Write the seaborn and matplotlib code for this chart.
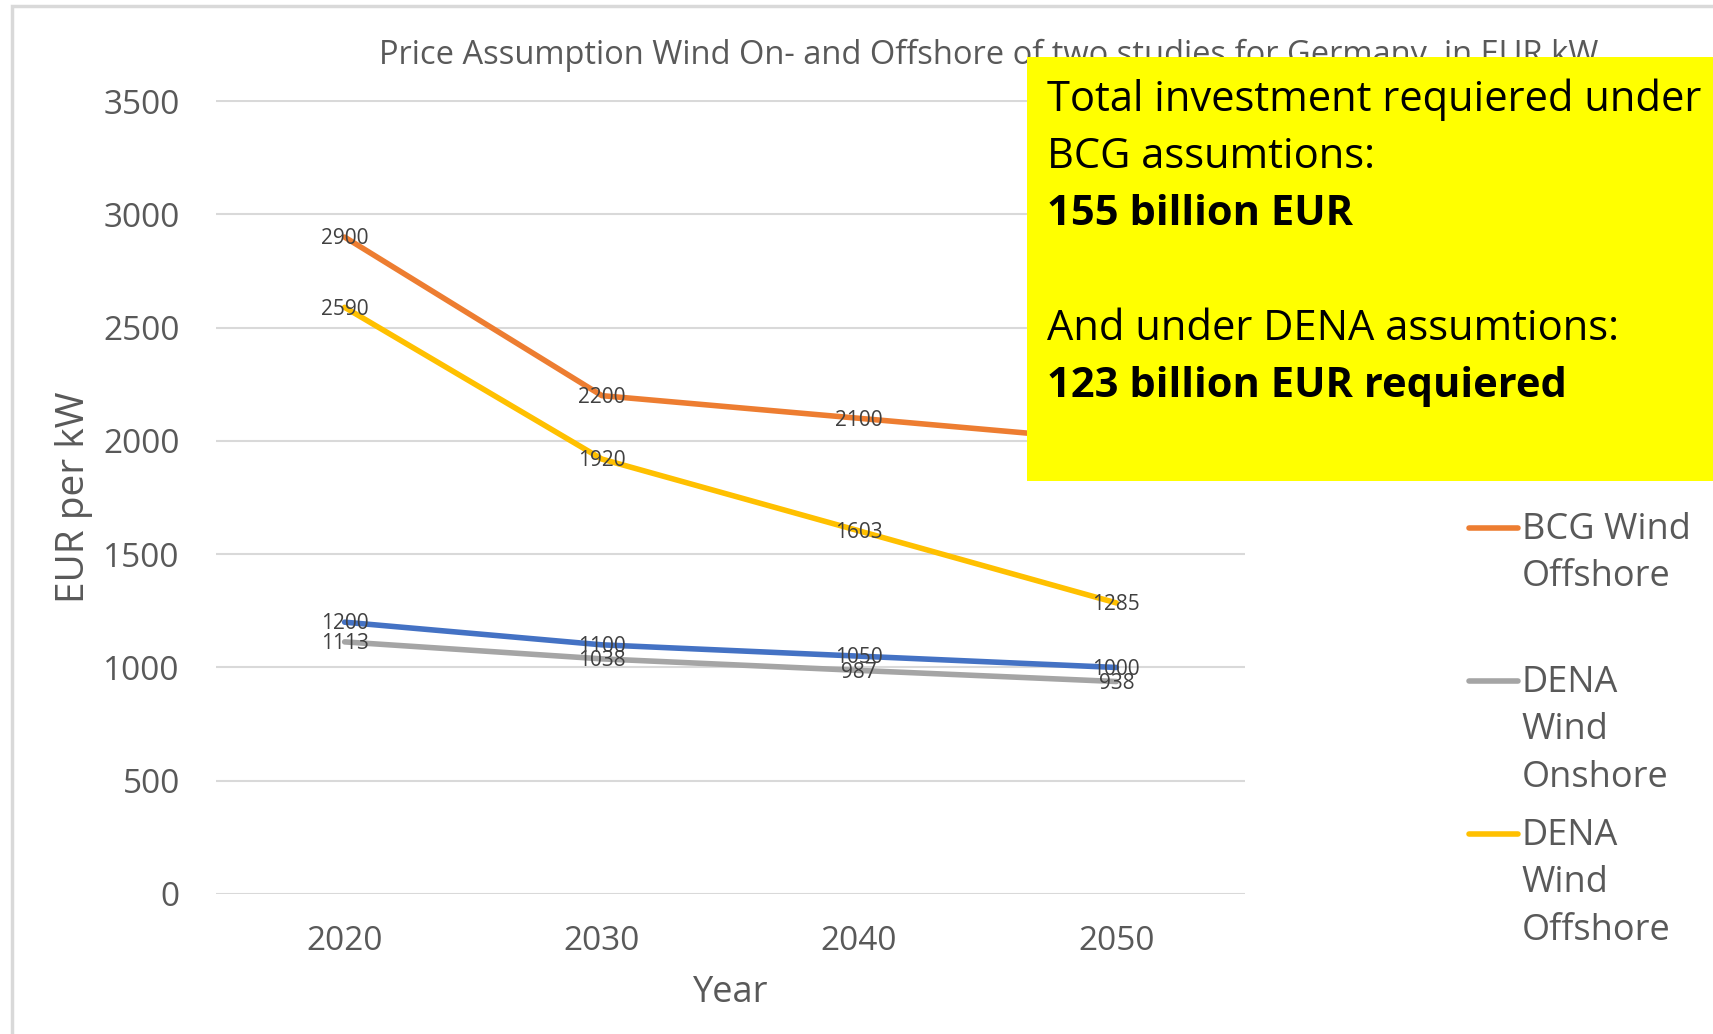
import pandas as pd
import seaborn as sns
import matplotlib.pyplot as plt
from matplotlib.lines import Line2D
from matplotlib.patches import Rectangle

# data
years = [2020, 2030, 2040, 2050]
bcg_onshore = [1200, 1100, 1050, 1000]
bcg_offshore = [2900, 2200, 2100, 2000]
dena_onshore = [1113, 1038, 987, 938]
dena_offshore = [2590, 1920, 1603, 1285]

series_names = ["BCG Wind Onshore", "BCG Wind Offshore", "DENA Wind Onshore", "DENA Wind Offshore"]
legend_labels = ["BCG Wind\nOnshore\n", "BCG Wind\nOffshore\n", "DENA\nWind\nOnshore", "DENA\nWind\nOffshore"]
colors = ["#4472C4", "#ED7D31", "#A5A5A5", "#FFC000"]

box_lines = [
    ("Total investment requiered under", "normal"),
    ("BCG assumtions:", "normal"),
    ("155 billion EUR", "bold"),
    ("", "normal"),
    ("And under DENA assumtions:", "normal"),
    ("123 billion EUR requiered", "bold"),
]

rows = []
for name, vals in zip(series_names, [bcg_onshore, bcg_offshore, dena_onshore, dena_offshore]):
    for yr, v in zip(years, vals):
        rows.append({"Year": yr, "Value": v, "Series": name})
df = pd.DataFrame(rows)

sns.set_theme(style="white")
plt.rcParams["font.family"] = ["Open Sans", "DejaVu Sans"]

W, H = 1713, 1034
fig = plt.figure(figsize=(W / 100, H / 100), dpi=100)
ax = fig.add_axes([216 / W, 1 - 894 / H, (1245 - 216) / W, (894 - 100.5) / H])

sns.lineplot(data=df, x="Year", y="Value", hue="Series", hue_order=series_names,
             palette=colors, linewidth=4, legend=False, ax=ax, zorder=3)

# data labels centred on the points
for vals in [bcg_onshore, bcg_offshore, dena_onshore, dena_offshore]:
    for yr, v in zip(years, vals):
        ax.text(yr, v - 8, str(v), ha="center", va="center", fontsize=15,
                color="#404040", zorder=4)

ax.set_xlim(2015, 2055)
ax.set_ylim(0, 3503)
ax.set_xticks(years)
ax.set_yticks(range(0, 3501, 500))
ax.grid(axis="y", color="#D9D9D9", linewidth=1.5)
ax.grid(axis="x", visible=False)
for s in ax.spines.values():
    s.set_visible(False)
ax.tick_params(axis="both", length=0, labelsize=24, labelcolor="#595959")
ax.tick_params(axis="y", pad=26)
ax.tick_params(axis="x", pad=22)
ax.set_xlabel("Year", fontsize=26, color="#595959")
ax.set_ylabel("EUR per kW", fontsize=28, color="#595959")
ax.xaxis.set_label_coords(0.5, -(975 - 894) / 793.5)
ax.yaxis.set_label_coords((93 - 216) / 1029, 0.5)

handles = [Line2D([0], [0], color=c, linewidth=4) for c in colors]
leg = ax.legend(handles, legend_labels, loc="upper left",
                bbox_to_anchor=(1469 / W, 1 - 359 / H), bbox_transform=fig.transFigure,
                frameon=False, fontsize=26, labelcolor="#595959",
                handlelength=1.36, handleheight=1.3, handletextpad=0.1,
                labelspacing=0.6, borderpad=0, borderaxespad=0)
for t in leg.get_texts():
    t.set_linespacing(1.43)
for col in leg._legend_handle_box.get_children():
    for row in col.get_children():
        row.align = "top"

fig.text(989 / W, 1 - 55 / H,
         "Price Assumption Wind On- and Offshore of two studies for Germany, in EUR kW",
         ha="center", va="center", fontsize=23.5, color="#595959", zorder=3)

# light frame around the chart
fig.add_artist(Rectangle((12 / W, -0.1), 1.2, 1 - 6 / H + 0.1, transform=fig.transFigure,
                         fill=False, edgecolor="#D9D9D9", linewidth=2.5, zorder=1))

# yellow annotation box
fig.add_artist(Rectangle((1027 / W, 1 - 481 / H), (W - 1027) / W, (481 - 57) / H,
                         transform=fig.transFigure, facecolor="#FFFF00",
                         edgecolor="none", zorder=5))
for i, (line, weight) in enumerate(box_lines):
    fig.text(1047 / W, 1 - (100 + i * 57.3) / H, line, ha="left", va="center",
             fontsize=30, fontweight=weight, color="black", zorder=6)

fig.savefig("out.png", dpi=100)
